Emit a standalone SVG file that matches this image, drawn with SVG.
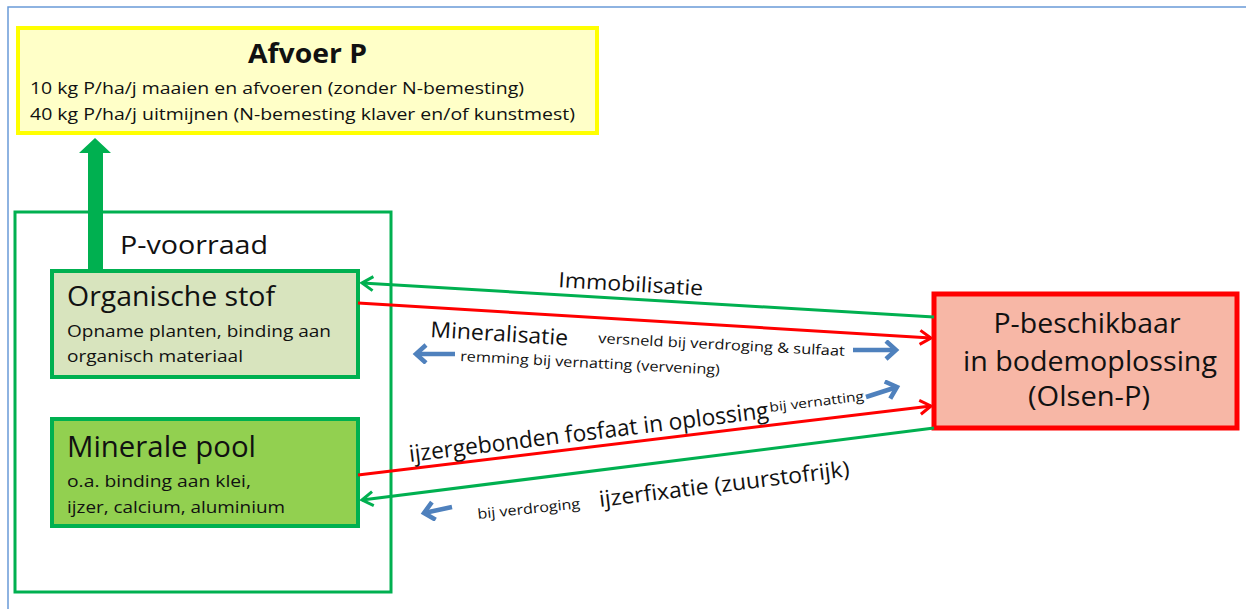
<svg xmlns="http://www.w3.org/2000/svg" width="1246" height="609" viewBox="0 0 1246 609">
<style>
text{font-family:"Open Sans","Noto Sans","Liberation Sans",sans-serif;fill:#111;}
.g{stroke:#00B050;stroke-width:3;fill:none;}
.r{stroke:#FF0000;stroke-width:3;fill:none;}
.b{stroke:#4F81BD;stroke-width:4.5;fill:none;}
.s17{font-size:17px;}
</style>
<defs>
<marker id="mg" markerUnits="userSpaceOnUse" markerWidth="16" markerHeight="18" refX="13" refY="8" orient="auto" viewBox="0 0 16 18">
<path d="M2,1 L13,8 L2,15" fill="none" stroke="#00B050" stroke-width="3"/>
</marker>
<marker id="mr" markerUnits="userSpaceOnUse" markerWidth="16" markerHeight="18" refX="13" refY="8" orient="auto" viewBox="0 0 16 18">
<path d="M2,1 L13,8 L2,15" fill="none" stroke="#FF0000" stroke-width="3"/>
</marker>
<marker id="mb" markerUnits="userSpaceOnUse" markerWidth="18" markerHeight="22" refX="13" refY="10" orient="auto" viewBox="0 0 18 22">
<path d="M3,1 L13,10 L3,19" fill="none" stroke="#4F81BD" stroke-width="4.5"/>
</marker>
</defs>
<rect width="1246" height="609" fill="#ffffff"/>
<path d="M8,609 L8,7 L1246,7" fill="none" stroke="#6A9BD8" stroke-width="1.5"/>

<g id="afvoer">
<rect x="18" y="28" width="579" height="105" fill="#FFFFC8" stroke="#FFFF00" stroke-width="4"/>
<text x="248" y="63" font-size="26" font-weight="bold" textLength="119" lengthAdjust="spacingAndGlyphs">Afvoer P</text>
<text x="30" y="94" class="s17" textLength="494" lengthAdjust="spacingAndGlyphs">10 kg P/ha/j maaien en afvoeren (zonder N-bemesting)</text>
<text x="30" y="120" class="s17" textLength="545" lengthAdjust="spacingAndGlyphs">40 kg P/ha/j uitmijnen (N-bemesting klaver en/of kunstmest)</text>
</g>

<g id="voorraad">
<rect x="15" y="212" width="376" height="380" fill="#ffffff" stroke="#00B050" stroke-width="3"/>
<text x="120" y="254" font-size="26" textLength="148" lengthAdjust="spacingAndGlyphs">P-voorraad</text>
</g>

<g id="afvoerpijl">
<polygon points="88,270 88,153 79,153 95,138 111,153 103,153 103,270" fill="#00B050"/>
</g>

<g id="organisch">
<rect x="52" y="271" width="306" height="106" fill="#D8E4BE" stroke="#00B050" stroke-width="4"/>
<text x="67" y="306" font-size="28" textLength="208" lengthAdjust="spacingAndGlyphs">Organische stof</text>
<text x="67" y="337" class="s17" textLength="264" lengthAdjust="spacingAndGlyphs">Opname planten, binding aan</text>
<text x="67" y="362" class="s17" textLength="176" lengthAdjust="spacingAndGlyphs">organisch materiaal</text>
</g>

<g id="mineraal">
<rect x="52" y="419" width="306" height="107" fill="#92D050" stroke="#00B050" stroke-width="4"/>
<text x="67" y="457" font-size="29" textLength="189" lengthAdjust="spacingAndGlyphs">Minerale pool</text>
<text x="67" y="487" class="s17" textLength="184" lengthAdjust="spacingAndGlyphs">o.a. binding aan klei,</text>
<text x="67" y="513" class="s17" textLength="218" lengthAdjust="spacingAndGlyphs">ijzer, calcium, aluminium</text>
</g>

<g id="beschikbaar">
<rect x="934" y="294" width="303" height="134" fill="#F7B7A6" stroke="#FF0000" stroke-width="5"/>
<text x="1087" y="333" font-size="27" text-anchor="middle" textLength="187" lengthAdjust="spacingAndGlyphs">P-beschikbaar</text>
<text x="1090" y="371" font-size="27" text-anchor="middle" textLength="254" lengthAdjust="spacingAndGlyphs">in bodemoplossing</text>
<text x="1089" y="406" font-size="27" text-anchor="middle" textLength="122" lengthAdjust="spacingAndGlyphs">(Olsen-P)</text>
</g>

<g id="connectors">
<line class="g" x1="934" y1="317" x2="362" y2="283" marker-end="url(#mg)"/>
<line class="r" x1="358" y1="303" x2="931" y2="338" marker-end="url(#mr)"/>
<line class="r" x1="358" y1="475" x2="931" y2="406" marker-end="url(#mr)"/>
<line class="g" x1="934" y1="428" x2="362" y2="500" marker-end="url(#mg)"/>
<line class="b" x1="853" y1="350" x2="896" y2="350" marker-end="url(#mb)"/>
<line class="b" x1="455" y1="354" x2="416" y2="354" marker-end="url(#mb)"/>
<line class="b" x1="866" y1="397" x2="897" y2="387" marker-end="url(#mb)"/>
<line class="b" x1="452" y1="507" x2="424" y2="513" marker-end="url(#mb)"/>
</g>

<g id="labels">
<text transform="translate(558,287) rotate(3.4)" font-size="21" textLength="145" lengthAdjust="spacingAndGlyphs">Immobilisatie</text>
<text transform="translate(430,337) rotate(3.5)" font-size="22" textLength="138" lengthAdjust="spacingAndGlyphs">Mineralisatie</text>
<text transform="translate(598,343) rotate(3)" font-size="14" textLength="247" lengthAdjust="spacingAndGlyphs">versneld bij verdroging &amp; sulfaat</text>
<text transform="translate(460,361) rotate(3)" font-size="14" textLength="260" lengthAdjust="spacingAndGlyphs">remming bij vernatting (vervening)</text>
<text transform="translate(410,462) rotate(-7)" font-size="23" textLength="362" lengthAdjust="spacingAndGlyphs">ijzergebonden fosfaat in oplossing</text>
<text transform="translate(770,412) rotate(-7)" font-size="13" textLength="95" lengthAdjust="spacingAndGlyphs">bij vernatting</text>
<text transform="translate(600,507) rotate(-7)" font-size="22" textLength="252" lengthAdjust="spacingAndGlyphs">ijzerfixatie (zuurstofrijk)</text>
<text transform="translate(478,519) rotate(-6)" font-size="14" textLength="103" lengthAdjust="spacingAndGlyphs">bij verdroging</text>
</g>
</svg>
